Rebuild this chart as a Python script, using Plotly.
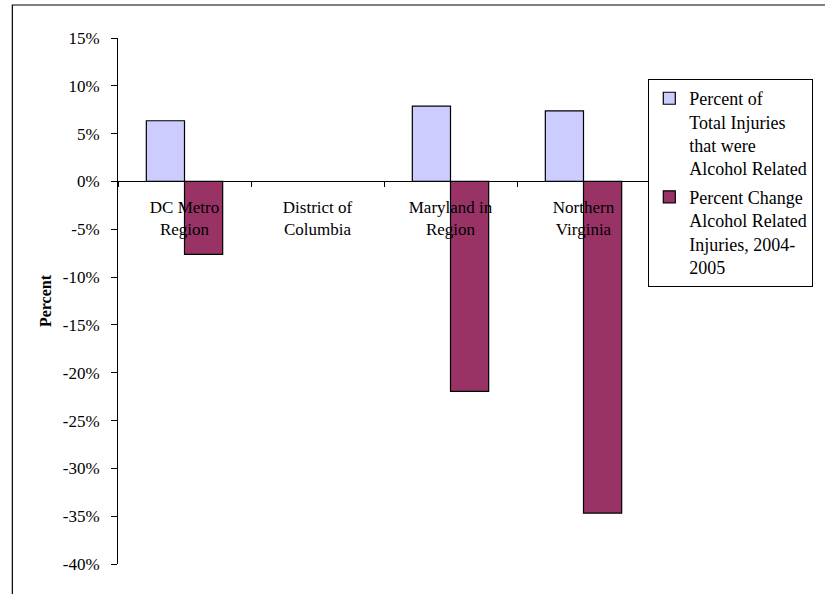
import plotly.graph_objects as go

categories = ["DC Metro<br>Region", "District of<br>Columbia", "Maryland in<br>Region", "Northern<br>Virginia"]
pct_alcohol = [0.0635, None, 0.0787, 0.0739]
pct_change = [-0.0763, None, -0.2196, -0.3468]
series_names = [
    "Percent of<br>Total Injuries<br>that were<br>Alcohol Related",
    "Percent Change<br>Alcohol Related<br>Injuries, 2004-<br>2005",
]
y_range = [-0.40, 0.15]
y_ticks = [0.15, 0.10, 0.05, 0.0, -0.05, -0.10, -0.15, -0.20, -0.25, -0.30, -0.35, -0.40]
y_ticktext = ["15%", "10%", "5%", "0%", "-5%", "-10%", "-15%", "-20%", "-25%", "-30%", "-35%", "-40%"]

FONT = "Liberation Serif, Times New Roman, serif"

fig = go.Figure()
fig.add_trace(go.Bar(x=categories, y=pct_alcohol, name=series_names[0], legendgroup="a",
                     marker=dict(color="#CCCCFF", line=dict(color="black", width=1.2))))
fig.add_trace(go.Bar(x=categories, y=pct_change, name=series_names[1], legendgroup="b",
                     marker=dict(color="#993366", line=dict(color="black", width=1.2))))

x_pos = (0 - y_range[0]) / (y_range[1] - y_range[0])

fig.update_layout(
    width=825, height=594,
    margin=dict(l=118, r=168, t=38, b=30),
    paper_bgcolor="white", plot_bgcolor="white",
    font=dict(family=FONT, size=17, color="black"),
    barmode="group", bargap=0.426, bargroupgap=0,
    showlegend=True,
    legend=dict(x=0.9968, xanchor="left", y=0.922, yanchor="top",
                bordercolor="black", borderwidth=1, bgcolor="white",
                font=dict(family=FONT, size=18, color="black"),
                valign="top", tracegroupgap=2, traceorder="grouped"),
    xaxis=dict(anchor="free", position=x_pos, showline=True, linecolor="black", linewidth=1,
               ticks="outside", tickson="boundaries", ticklen=5, tickcolor="black",
               showgrid=False, zeroline=False, ticklabelstandoff=10,
               tickfont=dict(family=FONT, size=17)),
    yaxis=dict(range=y_range, tickvals=y_ticks, ticktext=y_ticktext, showline=True,
               linecolor="black", linewidth=1, ticks="outside", ticklen=6, tickcolor="black",
               showgrid=False, zeroline=False, ticklabelstandoff=8,
               tickfont=dict(family=FONT, size=17),
               title=dict(text="<b>Percent</b>", font=dict(family=FONT, size=16), standoff=7)),
    shapes=[dict(type="rect", xref="paper", yref="paper", x0=-0.1986, x1=1.6, y0=-0.2, y1=1.0627,
                 line=dict(color="black", width=1.2), fillcolor="rgba(0,0,0,0)", layer="below")],
)

fig.write_html("out.html", config={"displayModeBar": False},
               post_script="document.body.style.margin='0';document.body.style.overflow='hidden';")
